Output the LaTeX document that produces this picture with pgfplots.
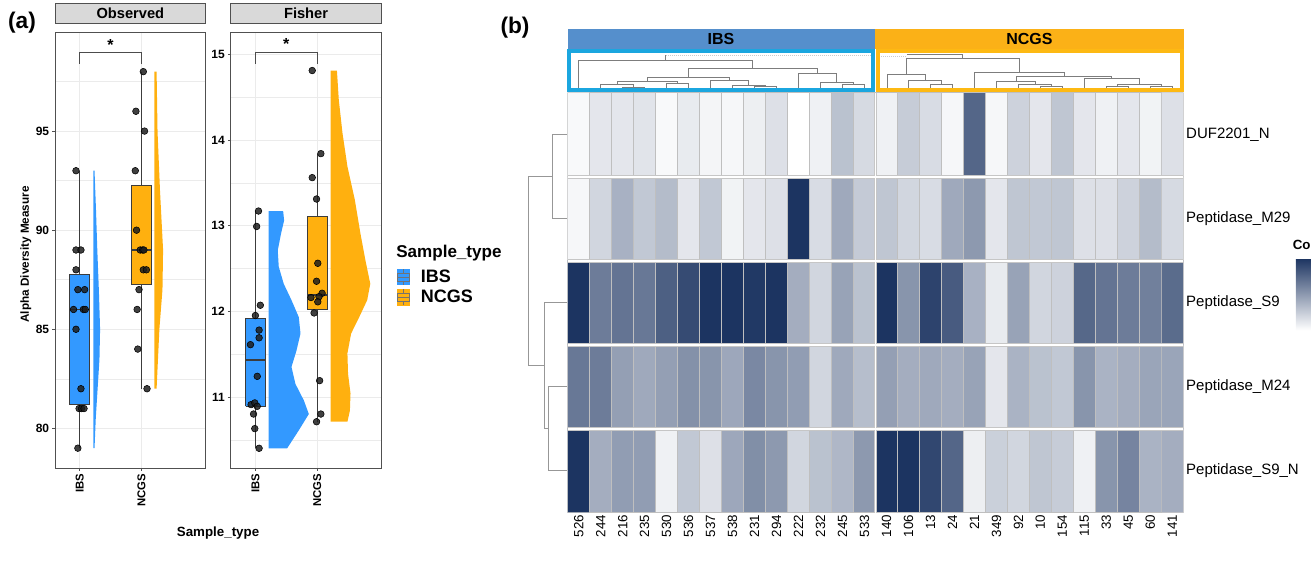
\documentclass[border=0pt]{standalone}
\usepackage{pgfplots}
\pgfplotsset{compat=1.18}
\usepackage{fontspec}
\setmainfont{Liberation Sans}
\definecolor{ibsblue}{RGB}{51,153,255}
\definecolor{ncgsor}{RGB}{255,176,15}
\definecolor{annblue}{RGB}{85,143,204}
\definecolor{annor}{RGB}{251,177,23}
\definecolor{boxcyan}{RGB}{27,166,223}
\definecolor{boxor}{RGB}{253,185,19}
\definecolor{navy}{RGB}{28,52,97}
\definecolor{gridgrey}{RGB}{235,235,235}
\definecolor{stripgrey}{RGB}{217,217,217}
\definecolor{framegrey}{RGB}{80,80,80}
\definecolor{ptgrey}{RGB}{30,30,30}
\definecolor{dendro}{RGB}{125,125,125}
\definecolor{boxline}{RGB}{60,60,60}

\pgfplotsset{
  panelA/.style={
    scale only axis, width=113.025pt, height=327pt,
    xmin=0.6, xmax=3.04,
    xtick={1,2}, xticklabels={IBS,NCGS},
    xtick pos=bottom, ytick pos=left,
    tick align=outside, major tick length=2.2pt, minor tick length=0pt,
    tick style={draw=framegrey, line width=0.5pt},
    axis line style={draw=framegrey, line width=0.6pt},
    grid=both,
    major grid style={draw=gridgrey, line width=0.6pt},
    minor grid style={draw=gridgrey, line width=0.35pt},
    /pgf/number format/assume math mode=true,
    xticklabel style={rotate=90, anchor=east, font=\fontsize{8.5}{10}\selectfont\bfseries, inner sep=2pt},
    yticklabel style={font=\fontsize{9}{10}\selectfont\bfseries, inner sep=2pt},
    title style={at={(0.5,1)}, anchor=south, minimum width=113.025pt, minimum height=15pt, inner sep=0pt, fill=stripgrey, draw=framegrey, line width=0.6pt, font=\fontsize{11}{13}\selectfont\bfseries},
    clip=false,
  },
  boxln/.style={draw=boxline, line width=0.7pt, forget plot},
  pts/.style={only marks, mark=*, mark size=2.5pt, mark options={fill=ptgrey, draw=none, fill opacity=0.85}, forget plot},
  brk/.style={draw=gray!60!black, line width=0.6pt, forget plot},
}

\begin{document}
\begin{tikzpicture}
\path[use as bounding box] (0pt,0pt) rectangle (983.25pt,-427.5pt);

% ---------------- Observed ----------------
\begin{axis}[panelA, at={(41.25pt,-24pt)}, anchor=north west,
  ymin=78, ymax=100, ytick={80,85,90,95}, minor ytick={82.5,87.5,92.5,97.5},
  title={Observed},
  ylabel={Alpha Diversity Measure},
  ylabel style={at={(axis description cs:-0.194,0.49)}, anchor=center, font=\fontsize{8.8}{10}\selectfont\bfseries},
]
\addplot[fill=ibsblue, draw=none, forget plot] coordinates {(1.22,93) (1.24,93) (1.264,91) (1.285,89) (1.31,87) (1.33,85) (1.32,83.5) (1.29,82) (1.26,80.5) (1.24,79) (1.22,79)};
\addplot[fill=ncgsor, draw=none, forget plot] coordinates {(2.21,98) (2.245,98) (2.26,95) (2.30,92) (2.35,89) (2.34,87) (2.29,85) (2.26,83) (2.245,82) (2.21,82)};
% IBS box
\addplot[boxln] coordinates {(1,79) (1,93)};
\addplot[boxln, fill=ibsblue] coordinates {(0.84,81.2) (1.16,81.2) (1.16,87.75) (0.84,87.75) (0.84,81.2)};
\addplot[boxln, line width=1pt] coordinates {(0.84,86) (1.16,86)};
% NCGS box
\addplot[boxln] coordinates {(2,82) (2,98)};
\addplot[boxln, fill=ncgsor] coordinates {(1.84,87.25) (2.16,87.25) (2.16,92.25) (1.84,92.25) (1.84,87.25)};
\addplot[boxln, line width=1pt] coordinates {(1.84,89) (2.16,89)};
% points
\addplot[pts] coordinates {(0.94,93) (0.94,89) (1.02,89) (0.94,88) (0.97,87) (1.08,87) (0.90,86) (1.06,86) (1.09,86) (0.94,85) (1.02,82) (0.99,81) (1.03,81) (1.07,81) (0.97,79)};
\addplot[pts] coordinates {(2.03,98) (1.91,96) (2.05,95) (1.90,93) (1.92,90) (1.98,89) (2.02,89) (2.04,89) (2.03,88) (2.08,88) (1.96,87) (1.93,86) (1.94,84) (2.09,82)};
% bracket
\addplot[brk] coordinates {(1,98.4) (1,98.98) (2,98.98) (2,98.4)};
\node[anchor=base, font=\fontsize{12}{12}\selectfont\bfseries, inner sep=0pt] at (axis cs:1.5,99.05) {*};
\end{axis}

% ---------------- Fisher ----------------
\begin{axis}[panelA, at={(173.025pt,-24pt)}, anchor=north west,
  ymin=10.17, ymax=15.26, ytick={11,12,13,14,15}, minor ytick={10.5,11.5,12.5,13.5,14.5},
  title={Fisher},
  xlabel={Sample\_type},
  xlabel style={at={(axis description cs:-0.084,-0.149)}, anchor=center, font=\fontsize{10}{12}\selectfont\bfseries},
  legend style={at={(axis description cs:1.1015,0.4587)}, anchor=north west, draw=none, fill=none,
     font=\fontsize{13.5}{14}\selectfont\bfseries, row sep=2.3pt, inner sep=0pt, column sep=7.5pt,
     nodes={inner sep=1pt}},
  legend cell align=left,
]
\addplot[fill=ibsblue, draw=none, forget plot] coordinates {(1.216,13.17) (1.449,13.17) (1.465,13.06) (1.416,12.91) (1.362,12.71) (1.378,12.52) (1.459,12.32) (1.584,12.13) (1.703,11.93) (1.73,11.74) (1.665,11.54) (1.584,11.35) (1.649,11.15) (1.784,10.96) (1.865,10.80) (1.703,10.61) (1.514,10.40) (1.216,10.40)};
\addplot[fill=ncgsor, draw=none, forget plot] coordinates {(2.216,14.81) (2.32,14.81) (2.35,14.47) (2.41,14.08) (2.49,13.69) (2.61,13.30) (2.70,12.91) (2.78,12.60) (2.86,12.32) (2.81,12.13) (2.68,11.93) (2.55,11.74) (2.49,11.51) (2.50,11.27) (2.54,11.04) (2.53,10.84) (2.49,10.71) (2.216,10.71)};
\addplot[boxln] coordinates {(1,10.40) (1,13.17)};
\addplot[boxln, fill=ibsblue] coordinates {(0.84,10.89) (1.16,10.89) (1.16,11.91) (0.84,11.91) (0.84,10.89)};
\addplot[boxln, line width=1pt] coordinates {(0.84,11.43) (1.16,11.43)};
\addplot[boxln] coordinates {(2,10.71) (2,13.84)};
\addplot[boxln, fill=ncgsor] coordinates {(1.84,12.02) (2.16,12.02) (2.16,13.11) (1.84,13.11) (1.84,12.02)};
\addplot[boxln, line width=1pt] coordinates {(1.84,12.19) (2.16,12.19)};
\addplot[pts] coordinates {(1.05,13.17) (1.02,12.99) (1.08,12.07) (1.00,11.95) (1.06,11.78) (1.06,11.69) (0.92,11.61) (1.03,11.24) (0.93,10.91) (0.99,10.93) (1.03,10.89) (0.97,10.80) (0.99,10.63) (1.06,10.40)};
\addplot[pts] coordinates {(1.92,14.81) (2.06,13.84) (1.92,13.56) (1.99,13.31) (2.01,12.56) (1.99,12.35) (2.08,12.21) (1.90,12.16) (2.03,12.17) (2.01,12.11) (1.95,11.98) (2.04,11.19) (2.06,10.80) (1.99,10.71)};
\addplot[brk] coordinates {(1,14.89) (1,15.02) (2,15.02) (2,14.89)};
\node[anchor=base, font=\fontsize{12}{12}\selectfont\bfseries, inner sep=0pt] at (axis cs:1.5,15.05) {*};
% legend
\node[anchor=west, font=\fontsize{12.8}{14}\selectfont\bfseries, inner sep=0pt] at (axis description cs:1.097,0.493) {Sample\_type};
\addlegendimage{legend image code/.code={
  \fill[ibsblue] (0pt,-5.8pt) rectangle (9pt,5.8pt);
  \draw[black!55, line width=0.4pt] (0pt,-3pt) rectangle (9pt,3pt);
  \draw[black!55, line width=0.4pt] (0pt,0pt)--(9pt,0pt);
  \draw[black!55, line width=0.4pt] (4.5pt,3pt)--(4.5pt,5.8pt) (4.5pt,-3pt)--(4.5pt,-5.8pt);}}
\addlegendentry{IBS}
\addlegendimage{legend image code/.code={
  \fill[ncgsor] (0pt,-5.8pt) rectangle (9pt,5.8pt);
  \draw[black!55, line width=0.4pt] (0pt,-3pt) rectangle (9pt,3pt);
  \draw[black!55, line width=0.4pt] (0pt,0pt)--(9pt,0pt);
  \draw[black!55, line width=0.4pt] (4.5pt,3pt)--(4.5pt,5.8pt) (4.5pt,-3pt)--(4.5pt,-5.8pt);}}
\addlegendentry{NCGS}
\end{axis}

% ---------------- Heatmap ----------------
\begin{axis}[at={(425.775pt,-69.525pt)}, anchor=north west, scale only axis, width=461.7pt, height=315pt,
  xmin=-0.5, xmax=27.5, ymin=-0.5, ymax=4.5, y dir=reverse, enlargelimits=false,
  axis line style={draw=none}, tick style={draw=none}, major tick length=0pt,
  xtick={0,...,27},
  xticklabels={526,244,216,235,530,536,537,538,231,294,222,232,245,533,140,106,13,24,21,349,92,10,154,115,33,45,60,141},
  xticklabel style={rotate=90, anchor=east, font=\fontsize{10}{12}\selectfont, inner sep=1.5pt},
  ytick={0,...,4},
  yticklabels={DUF2201\_N,Peptidase\_M29,Peptidase\_S9,Peptidase\_M24,Peptidase\_S9\_N},
  yticklabel pos=right,
  yticklabel style={anchor=west, font=\fontsize{11.25}{13}\selectfont, inner sep=2pt},
  colormap={hm}{color=(white) color=(navy)},
  point meta min=0, point meta max=1,
  colorbar, colorbar shift/.style={},
  colorbar style={at={(parent axis.north east)}, anchor=north west, xshift=84.5pt, yshift=-124.2pt,
     width=14pt, height=54pt, ytick=\empty, axis line style={draw=none}, scale only axis},
  clip=false,
]
\addplot[matrix plot*, mesh/cols=28, mesh/rows=5, point meta=explicit, draw=gray!50, line width=0.4pt] coordinates {
(0,0)[0.03] (1,0)[0.12] (2,0)[0.12] (3,0)[0.13] (4,0)[0.03] (5,0)[0.10] (6,0)[0.05] (7,0)[0.04] (8,0)[0.08] (9,0)[0.15] (10,0)[0.00] (11,0)[0.07] (12,0)[0.30] (13,0)[0.18] (14,0)[0.07] (15,0)[0.25] (16,0)[0.17] (17,0)[0.04] (18,0)[0.75] (19,0)[0.04] (20,0)[0.22] (21,0)[0.12] (22,0)[0.28] (23,0)[0.12] (24,0)[0.07] (25,0)[0.12] (26,0)[0.06] (27,0)[0.15]
(0,1)[0.04] (1,1)[0.20] (2,1)[0.38] (3,1)[0.27] (4,1)[0.33] (5,1)[0.12] (6,1)[0.27] (7,1)[0.06] (8,1)[0.12] (9,1)[0.15] (10,1)[1.00] (11,1)[0.17] (12,1)[0.42] (13,1)[0.26] (14,1)[0.28] (15,1)[0.20] (16,1)[0.17] (17,1)[0.42] (18,1)[0.50] (19,1)[0.12] (20,1)[0.28] (21,1)[0.27] (22,1)[0.28] (23,1)[0.15] (24,1)[0.15] (25,1)[0.22] (26,1)[0.33] (27,1)[0.18]
(0,2)[1.00] (1,2)[0.64] (2,2)[0.68] (3,2)[0.66] (4,2)[0.78] (5,2)[0.88] (6,2)[1.00] (7,2)[1.00] (8,2)[0.97] (9,2)[1.00] (10,2)[0.40] (11,2)[0.20] (12,2)[0.45] (13,2)[0.30] (14,2)[1.00] (15,2)[0.52] (16,2)[0.92] (17,2)[0.80] (18,2)[0.38] (19,2)[0.10] (20,2)[0.45] (21,2)[0.20] (22,2)[0.22] (23,2)[0.74] (24,2)[0.68] (25,2)[0.64] (26,2)[0.62] (27,2)[0.72]
(0,3)[0.66] (1,3)[0.64] (2,3)[0.47] (3,3)[0.42] (4,3)[0.47] (5,3)[0.54] (6,3)[0.52] (7,3)[0.43] (8,3)[0.58] (9,3)[0.52] (10,3)[0.48] (11,3)[0.20] (12,3)[0.42] (13,3)[0.32] (14,3)[0.47] (15,3)[0.40] (16,3)[0.42] (17,3)[0.40] (18,3)[0.45] (19,3)[0.12] (20,3)[0.37] (21,3)[0.30] (22,3)[0.27] (23,3)[0.52] (24,3)[0.37] (25,3)[0.40] (26,3)[0.44] (27,3)[0.44]
(0,4)[1.00] (1,4)[0.40] (2,4)[0.48] (3,4)[0.48] (4,4)[0.07] (5,4)[0.27] (6,4)[0.15] (7,4)[0.43] (8,4)[0.55] (9,4)[0.50] (10,4)[0.20] (11,4)[0.30] (12,4)[0.35] (13,4)[0.50] (14,4)[1.00] (15,4)[1.00] (16,4)[0.90] (17,4)[0.75] (18,4)[0.08] (19,4)[0.23] (20,4)[0.20] (21,4)[0.28] (22,4)[0.25] (23,4)[0.07] (24,4)[0.52] (25,4)[0.60] (26,4)[0.37] (27,4)[0.40]
};
% gaps between rows and groups
\addplot[white, line width=2.25pt] coordinates {(-0.5,0.5) (27.5,0.5)};
\addplot[white, line width=2.25pt] coordinates {(-0.5,1.5) (27.5,1.5)};
\addplot[white, line width=2.25pt] coordinates {(-0.5,2.5) (27.5,2.5)};
\addplot[white, line width=2.25pt] coordinates {(-0.5,3.5) (27.5,3.5)};
\addplot[white, line width=1.5pt] coordinates {(13.5,-0.5) (13.5,4.5)};
\addplot[gray!45, line width=0.4pt, unbounded coords=jump] coordinates {
(-0.5,0.482) (13.455,0.482) (13.5,inf) (13.545,0.482) (27.5,0.482) (13.5,inf)
(-0.5,0.518) (13.455,0.518) (13.5,inf) (13.545,0.518) (27.5,0.518) (13.5,inf)
(-0.5,1.482) (13.455,1.482) (13.5,inf) (13.545,1.482) (27.5,1.482) (13.5,inf)
(-0.5,1.518) (13.455,1.518) (13.5,inf) (13.545,1.518) (27.5,1.518) (13.5,inf)
(-0.5,2.482) (13.455,2.482) (13.5,inf) (13.545,2.482) (27.5,2.482) (13.5,inf)
(-0.5,2.518) (13.455,2.518) (13.5,inf) (13.545,2.518) (27.5,2.518) (13.5,inf)
(-0.5,3.482) (13.455,3.482) (13.5,inf) (13.545,3.482) (27.5,3.482) (13.5,inf)
(-0.5,3.518) (13.455,3.518) (13.5,inf) (13.545,3.518) (27.5,3.518)};
\addplot[gray!45, line width=0.4pt, unbounded coords=jump] coordinates {
(13.455,-0.5) (13.455,0.482) (13.5,inf) (13.455,0.518) (13.455,1.482) (13.5,inf) (13.455,1.518) (13.455,2.482) (13.5,inf) (13.455,2.518) (13.455,3.482) (13.5,inf) (13.455,3.518) (13.455,4.5) (13.5,inf)
(13.545,-0.5) (13.545,0.482) (13.5,inf) (13.545,0.518) (13.545,1.482) (13.5,inf) (13.545,1.518) (13.545,2.482) (13.5,inf) (13.545,2.518) (13.545,3.482) (13.5,inf) (13.545,3.518) (13.545,4.5)};
\end{axis}

% ---------------- Overlay (pixel coordinates) ----------------
\begin{axis}[at={(0pt,0pt)}, anchor=north west, scale only axis, width=983.25pt, height=427.5pt,
  xmin=0, xmax=1311, ymin=0, ymax=570, y dir=reverse, hide axis, clip=false]
% annotation bars
\addplot[fill=annblue, draw=none] coordinates {(567.7,29.3) (875,29.3) (875,49) (567.7,49)};
\addplot[fill=annor, draw=none] coordinates {(875,29.3) (1184,29.3) (1184,49) (875,49)};
\node[font=\fontsize{12}{14}\selectfont\bfseries] at (axis cs:721,39) {IBS};
\node[font=\fontsize{12}{14}\selectfont\bfseries] at (axis cs:1029.5,39) {NCGS};
% white interiors
\addplot[fill=white, draw=none] coordinates {(569,50.5) (873,50.5) (873,89.5) (569,89.5)};
\addplot[fill=white, draw=none] coordinates {(877.5,50.5) (1181.5,50.5) (1181.5,89.5) (877.5,89.5)};
% IBS column dendrogram
\addplot[dendro, line width=0.75pt, unbounded coords=jump] coordinates {
(622.6,88) (622.6,87.3) (644.5,87.3) (644.5,88) (0,inf)
(600.6,88) (600.6,84.3) (633.5,84.3) (633.5,87.3) (0,inf)
(666.5,88) (666.5,83.3) (688.4,83.3) (688.4,88) (0,inf)
(617,84.3) (617,81) (677.5,81) (677.5,83.3) (0,inf)
(754.3,88) (754.3,86.7) (776.2,86.7) (776.2,88) (0,inf)
(732.3,88) (732.3,85) (765.2,85) (765.2,86.7) (0,inf)
(710.4,88) (710.4,80) (748.8,80) (748.8,85) (0,inf)
(647.2,81) (647.2,77.3) (729.6,77.3) (729.6,80) (0,inf)
(842.1,88) (842.1,84) (864,84) (864,88) (0,inf)
(820.1,88) (820.1,82.3) (853,82.3) (853,84) (0,inf)
(798.2,88) (798.2,73.3) (836.6,73.3) (836.6,82.3) (0,inf)
(688.4,77.3) (688.4,68.3) (817.4,68.3) (817.4,73.3) (0,inf)
(578.7,88) (578.7,60.7) (752.9,60.7) (752.9,68.3) (0,inf)
(665.8,60.7) (665.8,55)};
\addplot[gray!40, line width=0.5pt, densely dotted] coordinates {(665.8,55) (870,55)};
% NCGS column dendrogram
\addplot[dendro, line width=0.75pt, unbounded coords=jump] coordinates {
(930.9,88) (930.9,84) (952.8,84) (952.8,88) (0,inf)
(908.9,88) (908.9,80) (941.85,80) (941.85,84) (0,inf)
(887.0,88) (887.0,74) (925.4,74) (925.4,80) (0,inf)
(1040.6,88) (1040.6,86.7) (1062.6,86.7) (1062.6,88) (0,inf)
(1018.7,88) (1018.7,84) (1051.6,84) (1051.6,86.7) (0,inf)
(996.7,88) (996.7,81) (1035.2,81) (1035.2,84) (0,inf)
(1106.5,88) (1106.5,86.7) (1128.4,86.7) (1128.4,88) (0,inf)
(1150.4,88) (1150.4,86.7) (1172.3,86.7) (1172.3,88) (0,inf)
(1117.45,86.7) (1117.45,84) (1161.35,84) (1161.35,86.7) (0,inf)
(1084.5,88) (1084.5,78.3) (1139.4,78.3) (1139.4,84) (0,inf)
(1016,81) (1016,76.7) (1111.95,76.7) (1111.95,78.3) (0,inf)
(974.8,88) (974.8,72.3) (1064,72.3) (1064,76.7) (0,inf)
(906.2,74) (906.2,58.3) (1019.4,58.3) (1019.4,72.3) (0,inf)
(962.8,58.3) (962.8,54.5) (907,54.5)};
\addplot[gray!40, line width=0.5pt, densely dotted] coordinates {(881,56.5) (907,56.5)};
% boxes around dendrograms
\addplot[draw=boxcyan, line width=3pt, line cap=rect] coordinates {(569,50.5) (873,50.5) (873,89.5) (569,89.5) (569,50.5)};
\addplot[draw=boxor, line width=3pt, line cap=rect] coordinates {(877.5,50.5) (1181.5,50.5) (1181.5,89.5) (877.5,89.5) (877.5,50.5)};
% row dendrogram
\addplot[dendro!80, line width=0.75pt, unbounded coords=jump] coordinates {
(567,134.7) (552.7,134.7) (552.7,218.7) (567,218.7) (0,inf)
(567,386.7) (548.3,386.7) (548.3,470.7) (567,470.7) (0,inf)
(567,302.7) (544.3,302.7) (544.3,428.7) (548.3,428.7) (0,inf)
(552.7,176.7) (528.3,176.7) (528.3,365.7) (544.3,365.7)};
% labels
\node[font=\fontsize{17}{20}\selectfont\bfseries] at (axis cs:22,23) {(a)};
\node[font=\fontsize{17}{20}\selectfont\bfseries] at (axis cs:515,28) {(b)};
\node[anchor=west, font=\fontsize{10}{12}\selectfont\bfseries, inner sep=0pt] at (axis cs:1292.5,245) {Co};
\end{axis}
\end{tikzpicture}
\end{document}
